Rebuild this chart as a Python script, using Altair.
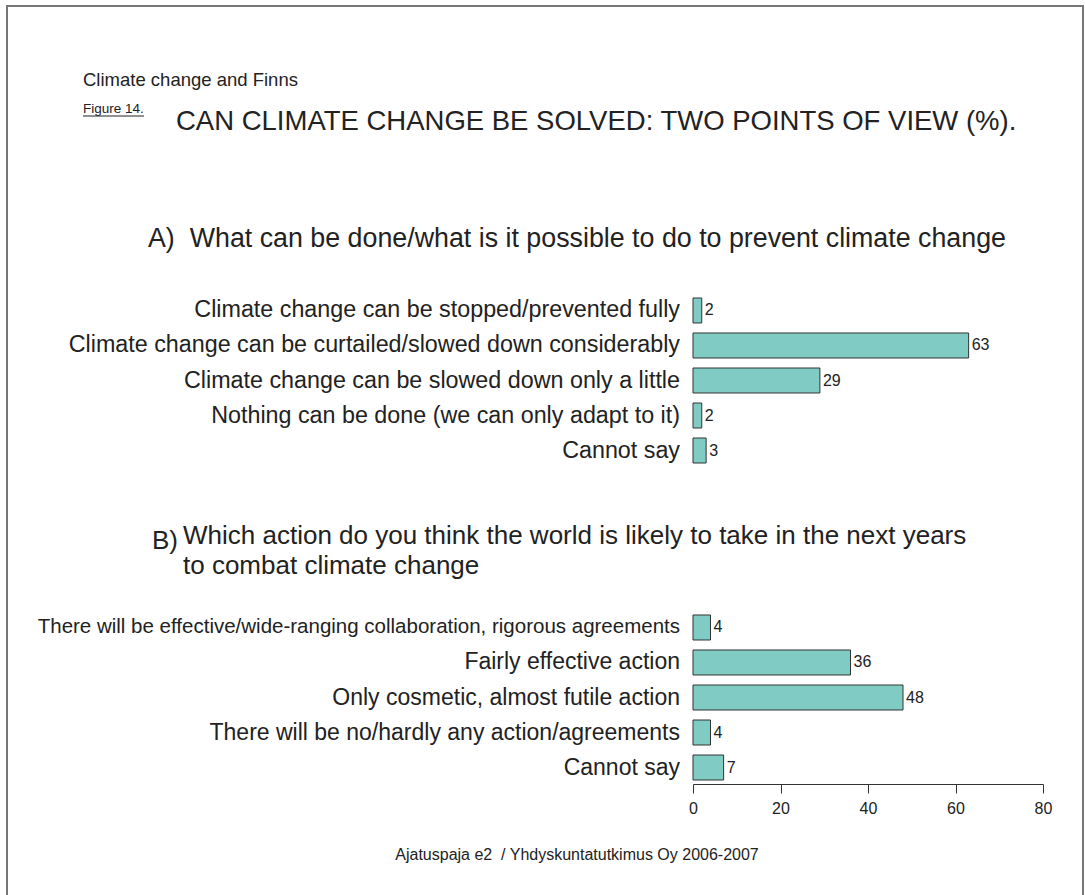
import altair as alt
import pandas as pd

FONT = "Liberation Sans, Arial, Helvetica, sans-serif"
TEXT = "#222222"
TEAL = "#80CBC4"
NBSP = "\u00a0"

# Texts
header_line = "Climate change and Finns"
figure_no = "Figure 14."
main_title = "CAN CLIMATE CHANGE BE SOLVED: TWO POINTS OF VIEW (%)."
title_a = "A)" + NBSP + NBSP + "What can be done/what is it possible to do to prevent climate change"
title_b_letter = "B)"
title_b_lines = [
    "Which action do you think the world is likely to take in the next years",
    "to combat climate change",
]
source_note = "Ajatuspaja e2" + NBSP + NBSP + "/ Yhdyskuntatutkimus Oy 2006-2007"

# Panel A: what can be done
cats_a = [
    "Climate change can be stopped/prevented fully",
    "Climate change can be curtailed/slowed down considerably",
    "Climate change can be slowed down only a little",
    "Nothing can be done (we can only adapt to it)",
    "Cannot say",
]
vals_a = [2, 63, 29, 2, 3]

# Panel B: what the world will do
cats_b = [
    "There will be effective/wide-ranging collaboration, rigorous agreements",
    "Fairly effective action",
    "Only cosmetic, almost futile action",
    "There will be no/hardly any action/agreements",
    "Cannot say",
]
vals_b = [4, 36, 48, 4, 7]

x_ticks = [0, 20, 40, 60, 80]

W, H = 1076, 900

df_a = pd.DataFrame({"answer": cats_a, "pct": vals_a})
df_b = pd.DataFrame({"answer": cats_b, "pct": vals_b})

x_enc = alt.X(
    "pct:Q",
    scale=alt.Scale(domain=[0, 80], range=[686, 1036], nice=False, zero=True),
    axis=alt.Axis(
        values=x_ticks,
        orient="bottom",
        offset=-122,
        grid=False,
        title=None,
        tickSize=9,
        tickColor="#333333",
        domainColor="#333333",
        labelFlush=False,
        labelFont=FONT,
        labelFontSize=16,
        labelColor=TEXT,
        labelPadding=7,
    ),
)


def panel(df, cats, y_range, label_size, long_label_size=None):
    y_enc = alt.Y(
        "answer:N",
        sort=cats,
        axis=None,
        scale=alt.Scale(range=y_range, paddingInner=0.286, paddingOuter=0.114),
    )
    bars = alt.Chart(df).mark_bar(fill=TEAL, stroke="#333333", strokeWidth=1).encode(
        x=x_enc, y=y_enc
    )
    values = alt.Chart(df).mark_text(
        align="left", baseline="middle", dx=3, font=FONT, fontSize=16, color=TEXT
    ).encode(x=x_enc, y=y_enc, text="pct:Q")
    size = alt.value(label_size)
    if long_label_size is not None:
        # the first, very long answer is set a little tighter
        size = alt.condition(
            alt.datum.answer == cats[0], alt.value(long_label_size), alt.value(label_size)
        )
    labels = alt.Chart(df).mark_text(
        align="right", baseline="middle", font=FONT, color=TEXT
    ).encode(x=alt.value(673), y=y_enc, text="answer:N", size=size)
    return alt.layer(bars, values, labels)


def note(text, x, y, size, align="left", baseline="middle", **kw):
    return alt.Chart(pd.DataFrame({"t": [text]})).mark_text(
        align=align, baseline=baseline, font=FONT, fontSize=size, color=TEXT, **kw
    ).encode(text="t:N", x=alt.value(x), y=alt.value(y))


underline = alt.Chart(pd.DataFrame({"t": [figure_no]})).mark_rule(
    color=TEXT, strokeWidth=1
).encode(x=alt.value(76), x2=alt.value(137), y=alt.value(110))

panel_a = panel(df_a, cats_a, [288, 461], 23.3)
panel_b = panel(df_b, cats_b, [605, 778], 23, long_label_size=20.5)

chart = (
    alt.layer(
        note(header_line, 76, 74, 18.5),
        note(figure_no, 76, 107, 13.5, baseline="alphabetic"),
        underline,
        note(main_title, 169, 124, 27.5, baseline="alphabetic"),
        note(title_a, 141, 233, 26.8),
        note(title_b_letter, 145, 535, 26),
        note("\n".join(title_b_lines), 176, 517, 26, baseline="top",
             lineBreak="\n", lineHeight=30),
        note(source_note, 570, 849, 16, align="center"),
        panel_a,
        panel_b,
    )
    .resolve_scale(y="independent")
    .properties(
        width=W,
        height=H,
        padding={"left": 7, "top": 6, "right": 2, "bottom": 0},
        autosize=alt.AutoSizeParams(type="none"),
        background="white",
    )
    .configure_view(stroke="#777777", strokeWidth=2)
)

chart.save("out.html", embed_options={"renderer": "svg", "actions": False})
